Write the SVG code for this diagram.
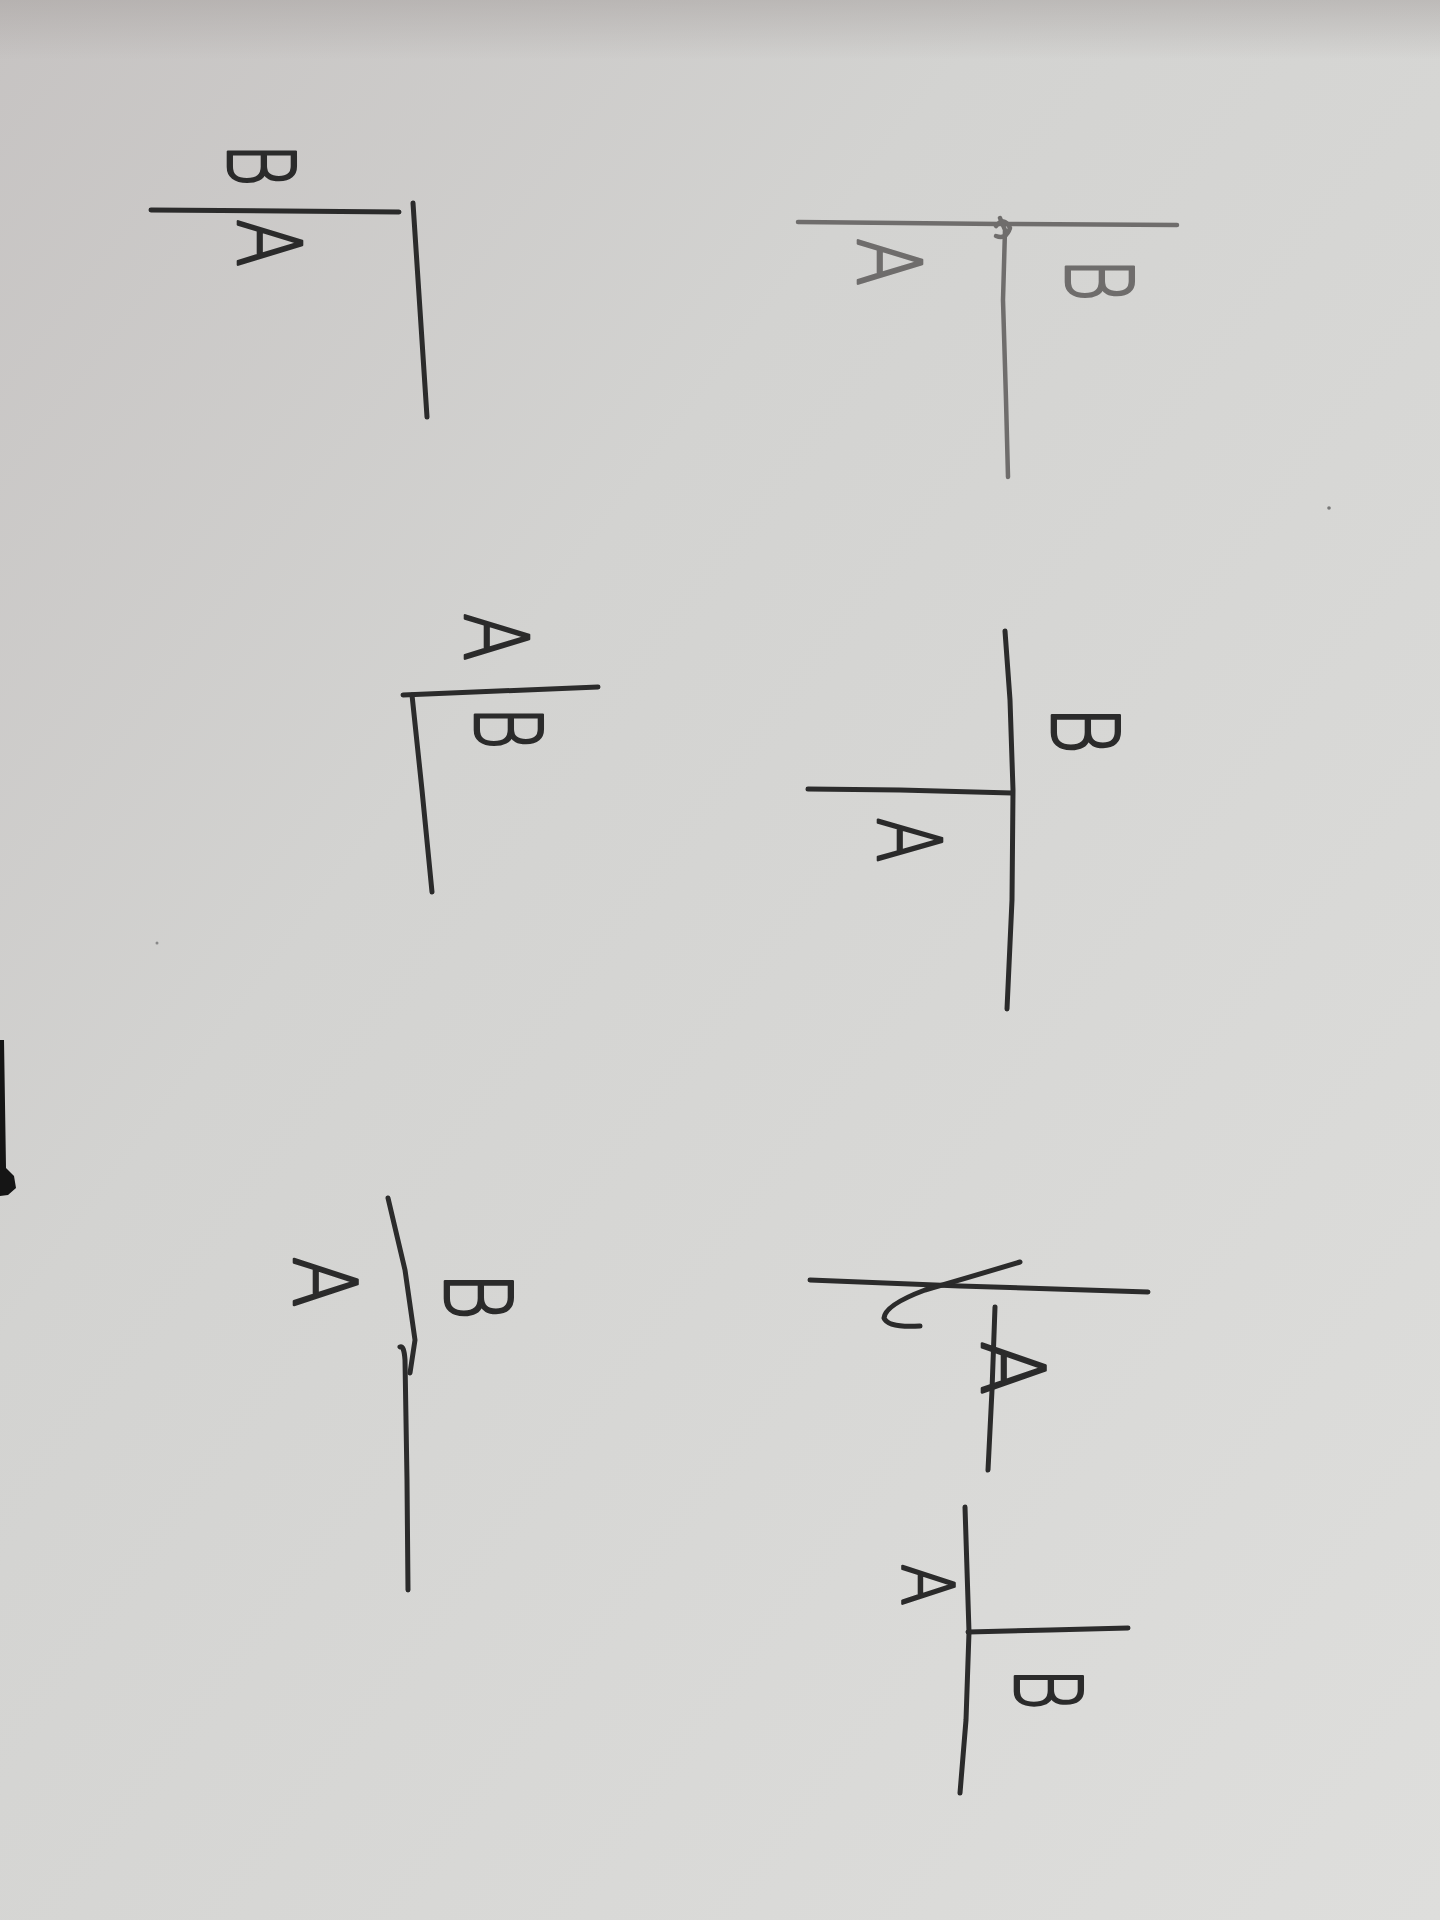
<svg xmlns="http://www.w3.org/2000/svg" width="1440" height="1920" viewBox="0 0 1440 1920">
<defs>
<linearGradient id="paper" x1="0" y1="0" x2="1" y2="1">
<stop offset="0" stop-color="#c6c3c2"/>
<stop offset="0.35" stop-color="#d3d3d1"/>
<stop offset="1" stop-color="#dededc"/>
</linearGradient>
<linearGradient id="topshade" x1="0" y1="0" x2="0" y2="1">
<stop offset="0" stop-color="#a9a4a2" stop-opacity="0.55"/>
<stop offset="1" stop-color="#a9a4a2" stop-opacity="0"/>
</linearGradient>
<style>
.pen{fill:none;stroke:#2b2b2b;stroke-width:5;stroke-linecap:round;stroke-linejoin:round}
.pencil{fill:none;stroke:#6f6d6c;stroke-width:4.5;stroke-linecap:round;stroke-linejoin:round}
.b,.a{font-family:"DejaVu Sans","Liberation Sans",sans-serif;font-weight:200;text-anchor:middle;dominant-baseline:central;fill:#2b2b2b;stroke:#2b2b2b;stroke-width:2.6;stroke-linejoin:round}
.b{font-size:92px}
.a{font-size:88px}
.g{fill:#6f6d6c;stroke:#6f6d6c}
</style>
</defs>
<rect width="1440" height="1920" fill="url(#paper)"/>
<rect width="1440" height="60" fill="url(#topshade)"/>
<path d="M0 1040 L4 1040 L6 1168 L14 1176 L16 1188 L8 1195 L0 1196 Z" fill="#151515"/>
<circle cx="1329" cy="508" r="1.8" fill="#777"/>
<circle cx="157" cy="943" r="1.5" fill="#888"/>

<g id="sketch1">
<path class="pen" d="M151 210 L399 212"/>
<path class="pen" d="M413 203 L420 310 L427 417"/>
<text class="b" transform="translate(260,165) rotate(90) scale(0.72,1)">B</text>
<text class="a" transform="translate(268,243) rotate(90) scale(0.8,1)">A</text>
</g>

<g id="sketch2">
<path class="pencil" d="M798 222 L1000 224 L1177 225"/>
<path class="pencil" d="M1000 218 L1005 230 L1003 300 L1006 400 L1008 477"/>
<path class="pencil" d="M996 226 Q1004 216 1010 228 Q1006 240 996 236"/>
<text class="a g" transform="translate(888,262) rotate(90) scale(0.8,1)">A</text>
<text class="b g" transform="translate(1098,280) rotate(90) scale(0.72,1)">B</text>
</g>

<g id="sketch3">
<path class="pen" d="M1005 631 L1010 700 L1013 790 L1012 900 L1007 1009"/>
<path class="pen" d="M808 789 L900 790 L1012 793"/>
<text class="b" transform="translate(1083,730) rotate(90) scale(0.8,1)">B</text>
<text class="a" transform="translate(909,840) rotate(90) scale(0.75,1)">A</text>
</g>

<g id="sketch4">
<path class="pen" d="M403 695 L598 687"/>
<path class="pen" d="M412 695 L422 790 L432 892"/>
<text class="a" transform="translate(495,637) rotate(90) scale(0.8,1)">A</text>
<text class="b" transform="translate(507,728) rotate(90) scale(0.72,1)">B</text>
</g>

<g id="sketch5">
<path class="pen" d="M810 1280 L960 1286 L1148 1292"/>
<path class="pen" d="M1020 1262 Q960 1280 925 1290 Q885 1305 884 1318 Q888 1328 920 1326"/>
<path class="pen" d="M995 1307 L992 1390 L988 1470"/>
<text class="a" transform="translate(1012,1368) rotate(90) scale(0.9,1)">A</text>
</g>

<g id="sketch6">
<path class="pen" d="M965 1507 L969 1632 L966 1720 L960 1793"/>
<path class="pen" d="M968 1632 L1050 1630 L1128 1628"/>
<text class="b" transform="translate(1047,1689) rotate(90) scale(0.7,1)">B</text>
<text class="a" style="font-size:72px" transform="translate(928,1585) rotate(90) scale(0.85,1)">A</text>
</g>

<g id="sketch7">
<path class="pen" d="M388 1198 L405 1270 L415 1340 L410 1373"/>
<path class="pen" d="M400 1347 Q404 1345 405 1360 L407 1480 L408 1590"/>
<text class="b" transform="translate(476,1296) rotate(90) scale(0.8,1)">B</text>
<text class="a" transform="translate(325,1282) rotate(90) scale(0.85,1)">A</text>
</g>
</svg>
